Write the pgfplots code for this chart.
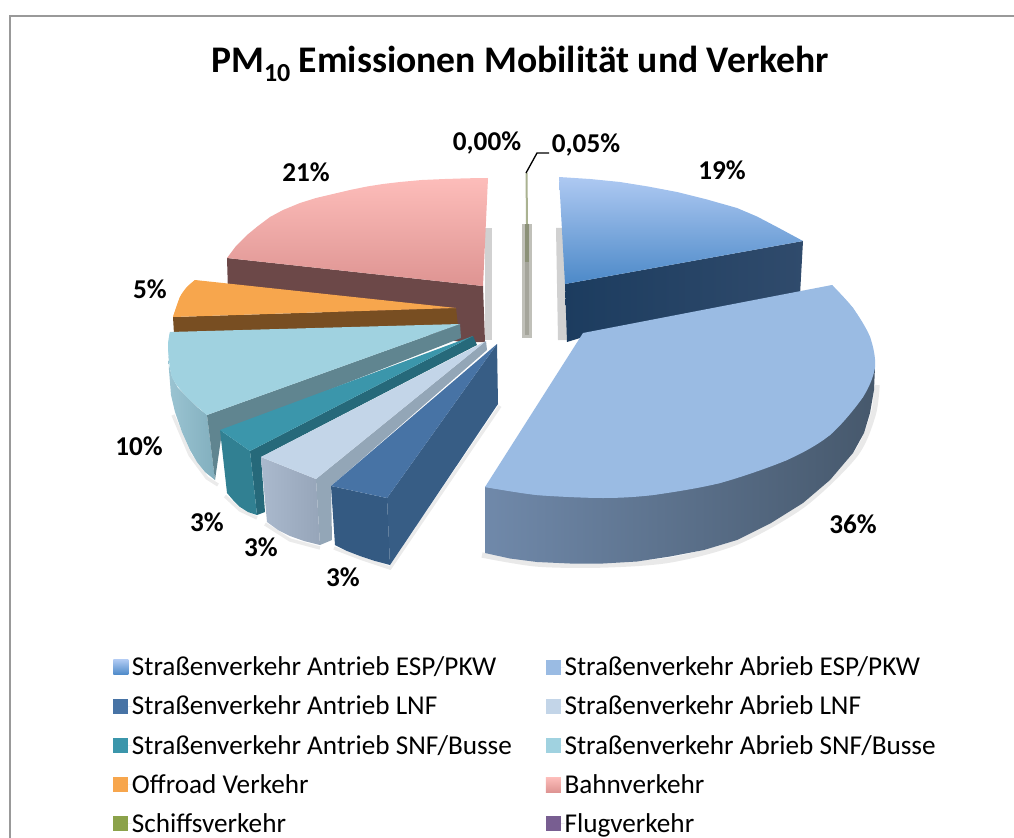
\documentclass[border=0pt]{standalone}
\usepackage{pgfplots}
\pgfplotsset{compat=1.18}
\usepackage{fontspec}
\setmainfont{Carlito}
\definecolor{tealtop}{HTML}{3B96AB}
\begin{document}
\begin{tikzpicture}
\path[use as bounding box] (0,0) rectangle (760.5pt,628.5pt);
\begin{axis}[
  at={(0,0)}, anchor=south west,
  width=760.5pt, height=628.5pt, scale only axis,
  xmin=0, xmax=1014, ymin=0, ymax=838, y dir=reverse,
  hide axis, clip=true,
  title={\bfseries PM\raisebox{-0.5ex}{\fontsize{19.5}{22}\selectfont 10} Emissionen Mobilität und Verkehr},
  title style={font=\fontsize{28.2}{32}\selectfont, at={(0.5128,0.914)}, anchor=center},
  legend image code/.code={\path (0pt,0pt) -- (14pt,0pt);\path[draw=none,#1] (0pt,-5.6pt) rectangle (11.25pt,5.6pt);},
  legend style={draw=none, fill=none, at={(0.1075,0.2197)}, anchor=north west,
    legend columns=2, font=\fontsize{20.4}{24}\selectfont,
    nodes={inner sep=0pt, anchor=west},
    /tikz/every even column/.append style={column sep=25.5pt},
    row sep=13.7pt, legend cell align=left},
  every axis plot/.append style={draw=none, forget plot},
]
% frame
\addplot[draw={rgb,255:red,153;green,153;blue,153},line width=1.5pt,fill=none] coordinates {(10,838)(10,16)(1014,16)};
% 21 % Bahnverkehr: shadow, wall and top
\addplot[fill=black!18] coordinates {(485,228)(492,228)(492,340)(485,340)};
\addplot[fill={rgb,255:red,108;green,72;blue,72}] coordinates {(227,258)(483,286)(485,342)(460,342)(228,292)};
\addplot[top color={rgb,255:red,253;green,189;blue,186},bottom color={rgb,255:red,222;green,148;blue,146}] coordinates {(483,286)(227,258)(236,246)(247,235)(258,226)(270,217)(283,210)(300,203)(316,198)(333,194)(350,190)(367,186.5)(383,184)(400,182)(422,180)(445,179)(467,178.3)(488,178)};
% 5 % Offroad
\addplot[fill={rgb,255:red,120;green,78;blue,34}] coordinates {(173,317)(456,308)(458,326)(174,334)};
\addplot[fill={rgb,255:red,247;green,166;blue,77}] coordinates {(456,308)(195,280)(187,287)(180,297)(173,317)};
\addplot[smooth,fill={rgb,255:red,247;green,166;blue,77}] coordinates {(195,280)(187,287)(180,297)(173,317)};
% 10 % Abrieb SNF
\addplot[draw=black!20,line width=2.5pt,fill=none,opacity=.4] coordinates {(173,415)(190,455)(207,478)(218,485)};
\addplot[left color={rgb,255:red,155;green,196;blue,210},right color={rgb,255:red,130;green,175;blue,190}] coordinates {(168,347)(169,365)(172,377)(178,388)(187,397)(197,407)(207,415)(215,480)(205,472)(197,462)(190,450)(182,432)(175,412)(171,395)(169,370)};
\addplot[fill={rgb,255:red,96;green,133;blue,144}] coordinates {(207,415)(460,324)(461,338)(222,432)(215,480)};
\addplot[fill={rgb,255:red,160;green,210;blue,224}] coordinates {(460,324)(170,332)(168,347)(172,377)(187,397)(207,415)};
\addplot[smooth,fill={rgb,255:red,160;green,210;blue,224}] coordinates {(170,332)(168,347)(172,377)(187,397)(207,415)};
% 3 % Antrieb SNF
\addplot[draw=black!20,line width=2.5pt,fill=none,opacity=.4] coordinates {(225,496)(240,510)(257,518)};
\addplot[fill={rgb,255:red,38;green,105;blue,122}] coordinates {(250,451)(473,336)(477,345)(261,457)(265,512)(257,515)};
\addplot[fill={rgb,255:red,49;green,128;blue,146}] coordinates {(220,430)(250,451)(257,515)(248,512)(240,507)(233,500)(227,493)};
\addplot[fill=tealtop] coordinates {(220,430)(250,451)(473,336)};
% 3 % Abrieb LNF
\addplot[draw=black!20,line width=2.5pt,fill=none,opacity=.4] coordinates {(265,524)(290,540)(320,548)};
\addplot[fill={rgb,255:red,147;green,166;blue,183}] coordinates {(316,479)(486,341)(487,350)(331,486)(332,540)(320,545)};
\addplot[left color={rgb,255:red,170;green,185;blue,205},right color={rgb,255:red,150;green,165;blue,185}] coordinates {(261,457)(316,479)(320,545)(304,541)(290,536)(278,530)(267,522)};
\addplot[fill={rgb,255:red,195;green,213;blue,232}] coordinates {(261,457)(316,479)(486,341)};
% 3 % Antrieb LNF
\addplot[draw=black!20,line width=2.5pt,fill=none,opacity=.4] coordinates {(334,548)(360,558)(390,568)(500,406)};
\addplot[fill={rgb,255:red,55;green,93;blue,133}] coordinates {(387,498)(497,344)(498,404)(390,565)};
\addplot[fill={rgb,255:red,52;green,90;blue,130}] coordinates {(331,486)(387,498)(390,565)(375,561)(360,556)(347,551)(335,545)};
\addplot[fill={rgb,255:red,71;green,115;blue,165}] coordinates {(331,486)(387,498)(497,344)};
% Schiff / Flug
\addplot[fill={rgb,255:red,192;green,192;blue,185}] coordinates {(522,224)(531.5,224)(531.5,338)(522,338)};
\addplot[fill={rgb,255:red,165;green,165;blue,155}] coordinates {(524.5,262)(529,262)(529,335)(524.5,335)};
\addplot[fill={rgb,255:red,140;green,145;blue,120}] coordinates {(525,224)(528.5,224)(528.5,262)(525,262)};
\addplot[fill={rgb,255:red,170;green,178;blue,145}] coordinates {(525.5,173)(527.5,173)(528,224)(526,224)};
% leader
\addplot[draw=black,line width=1pt,fill=none] coordinates {(526,173)(537,153)(549,153)};
% 19 % Antrieb ESP
\addplot[fill=black!18] coordinates {(556,228)(566,228)(568,340)(558,340)};
\addplot[left color={rgb,255:red,28;green,60;blue,95},right color={rgb,255:red,48;green,75;blue,108}] coordinates {(565,284)(803,241)(800,295)(580,338)(567,342)};
\addplot[top color={rgb,255:red,174;green,201;blue,242},bottom color={rgb,255:red,76;green,137;blue,200}] coordinates {(565,284)(559,177)(590,179)(620,182)(648,186.5)(677,192)(707,199.5)(737,208)(757,216.5)(777,227)(790,234)(803,241)};
% 36 % Abrieb ESP
\addplot[smooth,draw=black!22,line width=4pt,fill=none,opacity=.4] coordinates {(482,555)(537,564)(603,565)(670,560)(737,542)(803,505)(855,455)(873,415)(877,385)};
\addplot[left color={rgb,255:red,112;green,137;blue,170},right color={rgb,255:red,70;green,88;blue,108}] coordinates {(485,487)(485,553)(510,558.5)(537,562)(570,563.5)(603,563.5)(637,561.5)(670,556.5)(704,550)(737,540)(771,523)(803,503)(830,480)(853,453)(864,433)(870,413)(874,390)(875,367)};
\addplot[fill={rgb,255:red,154;green,187;blue,227}] coordinates {(583,333)(832,285)(853,308)(870,337)(875,367)(863,397)(830,435)(787,460)(720,483)(653,495)(603,498)(537,495)(485,487)};
\addplot[smooth,fill={rgb,255:red,154;green,187;blue,227}] coordinates {(832,285)(853,308)(870,337)(875,367)(863,397)(830,435)(787,460)(720,483)(653,495)(603,498)(537,495)(485,487)};
% labels
\node[font=\fontsize{20.4}{24}\selectfont\bfseries] at (axis cs:487,143) {0,00\%};
\node[font=\fontsize{20.4}{24}\selectfont\bfseries] at (axis cs:586,145) {0,05\%};
\node[font=\fontsize{20.4}{24}\selectfont\bfseries] at (axis cs:722,170) {19\%};
\node[font=\fontsize{20.4}{24}\selectfont\bfseries] at (axis cs:306,172) {21\%};
\node[font=\fontsize{20.4}{24}\selectfont\bfseries] at (axis cs:150,289) {5\%};
\node[font=\fontsize{20.4}{24}\selectfont\bfseries] at (axis cs:139,446) {10\%};
\node[font=\fontsize{20.4}{24}\selectfont\bfseries] at (axis cs:207,522) {3\%};
\node[font=\fontsize{20.4}{24}\selectfont\bfseries] at (axis cs:261,547) {3\%};
\node[font=\fontsize{20.4}{24}\selectfont\bfseries] at (axis cs:343,577) {3\%};
\node[font=\fontsize{20.4}{24}\selectfont\bfseries] at (axis cs:853,524) {36\%};
% legend
\addlegendimage{top color={rgb,255:red,174;green,201;blue,242},bottom color={rgb,255:red,76;green,137;blue,200}}
\addlegendentry{Straßenverkehr Antrieb ESP/PKW}
\addlegendimage{fill={rgb,255:red,154;green,187;blue,227}}
\addlegendentry{Straßenverkehr Abrieb ESP/PKW}
\addlegendimage{fill={rgb,255:red,71;green,115;blue,165}}
\addlegendentry{Straßenverkehr Antrieb LNF}
\addlegendimage{fill={rgb,255:red,195;green,213;blue,232}}
\addlegendentry{Straßenverkehr Abrieb LNF}
\addlegendimage{fill=tealtop}
\addlegendentry{Straßenverkehr Antrieb SNF/Busse}
\addlegendimage{fill={rgb,255:red,160;green,210;blue,224}}
\addlegendentry{Straßenverkehr Abrieb SNF/Busse}
\addlegendimage{fill={rgb,255:red,247;green,166;blue,77}}
\addlegendentry{Offroad Verkehr}
\addlegendimage{top color={rgb,255:red,253;green,189;blue,186},bottom color={rgb,255:red,222;green,148;blue,146}}
\addlegendentry{Bahnverkehr}
\addlegendimage{fill={rgb,255:red,139;green,162;blue,74}}
\addlegendentry{Schiffsverkehr}
\addlegendimage{fill={rgb,255:red,120;green,94;blue,145}}
\addlegendentry{Flugverkehr}
\end{axis}
\end{tikzpicture}
\end{document}
